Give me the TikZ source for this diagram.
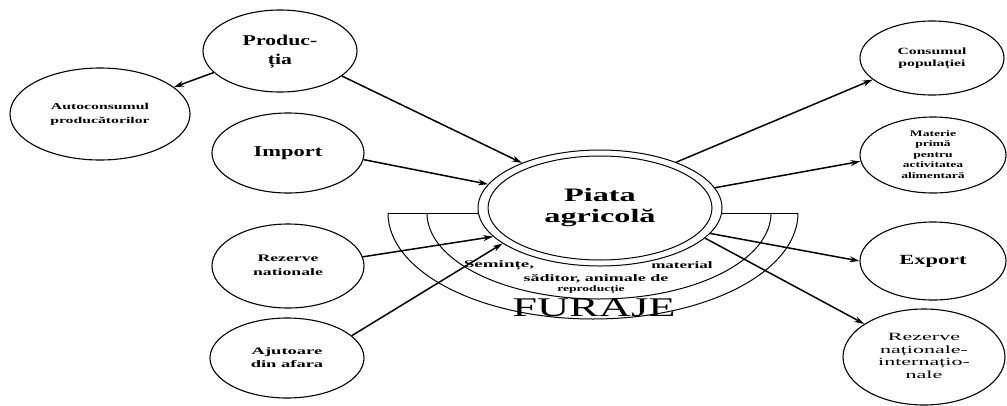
\documentclass[tikz,border=0pt]{standalone}
\usepackage{graphicx}
\usepackage{fontspec}
\setmainfont{Liberation Serif}
\usetikzlibrary{arrows.meta,shapes.geometric}
\newcommand\wt[5]{\scalebox{#1}[1]{#2\fontsize{#3}{#4}\selectfont\begin{tabular}{@{}c@{}}#5\end{tabular}}}
\newcommand\wl[4]{\scalebox{#1}[1]{#2\fontsize{#3}{#3}\selectfont #4}}
\begin{document}
\begin{tikzpicture}[x=1pt,y=-1pt,
  ell/.style={draw, ellipse, line width=1.1pt, inner sep=0pt, fill=white},
  arr/.style={-{Stealth[length=10pt,width=6pt]}, line width=1.5pt},
  band/.style={line width=1pt},
  txt/.style={inner sep=0pt}]
\useasboundingbox (0,0) rectangle (1007,405);
% band arcs
\draw[band] (388,213) -- (798,213);
\draw[band] (388,213) arc[start angle=180,end angle=0,x radius=205,y radius=106];
\draw[band] (427,213) arc[start angle=180,end angle=0,x radius=172,y radius=86];
% band texts
\node[txt] (sem) at (499,265) {\wl{1.9}{\bfseries}{10}{Semințe,}};
\node[txt] (mat1) at (682,265) {\wl{1.7}{\bfseries}{10}{material}};
\node[txt] (sad) at (596,279) {\wl{1.8}{\bfseries}{10}{săditor, animale de}};
\node[txt] (repr) at (591,290) {\wl{1.6}{\bfseries}{8.5}{reproducție}};
\node[txt] (fur) at (594,308) {\wl{1.65}{}{27}{FURAJE}};
% central
\node[ell, line width=1pt, minimum width=244pt, minimum height=116pt] (piata) at (600,208) {};
\node[ell, line width=1pt, minimum width=224pt, minimum height=104pt] (piatai) at (600,208)
  {\wt{1.7}{\bfseries}{19}{21}{Piata\\agricolă}};
% left nodes
\node[ell, minimum width=180pt, minimum height=92pt] (auto) at (100,114)
  {\wt{1.75}{\bfseries}{9}{14}{Autoconsumul\\producătorilor}};
\node[ell, minimum width=154pt, minimum height=82pt] (prod) at (280,51)
  {\wt{1.45}{\bfseries}{15}{19}{Produc-\\ția}};
\node[ell, minimum width=152pt, minimum height=80pt] (imp) at (288,153)
  {\wt{1.5}{\bfseries}{15}{18}{Import}};
\node[ell, minimum width=152pt, minimum height=84pt] (rezn) at (288,266)
  {\wt{1.77}{\bfseries}{10}{14}{Rezerve\\nationale}};
\node[ell, minimum width=154pt, minimum height=80pt] (ajut) at (287,358)
  {\wt{1.85}{\bfseries}{10}{13}{Ajutoare\\din afara}};
% right nodes
\node[ell, minimum width=144pt, minimum height=74pt] (cons) at (932,58)
  {\wt{1.65}{\bfseries}{9.5}{12}{Consumul\\populației}};
\node[ell, minimum width=146pt, minimum height=76pt] (mat) at (933,155)
  {\wt{1.6}{\bfseries}{8.5}{10.5}{Materie\\primă\\pentru\\activitatea\\alimentară}};
\node[ell, minimum width=146pt, minimum height=78pt] (exp) at (933,261)
  {\wt{1.6}{\bfseries}{14}{16}{Export}};
\node[ell, minimum width=162pt, minimum height=96pt] (rezi) at (924,357)
  {\wt{2.0}{}{11}{12.5}{Rezerve\\naționale-\\internațio-\\nale}};
% arrows
\draw[arr] (prod.198) -- (auto.20);
\draw[arr] (prod.338) -- (piata.150);
\draw[arr] (imp.355) -- (piata.168);
\draw[arr] (rezn.7) -- (piata.195);
\draw[arr] (ajut.19) -- (piata.200);
\draw[arr] (piata.31) -- (cons.200);
\draw[arr] (piata.10) -- (mat.185);
\draw[arr] (piata.347) -- (exp.180);
\draw[arr] (piata.344) -- (rezi.151);
\end{tikzpicture}
\end{document}
